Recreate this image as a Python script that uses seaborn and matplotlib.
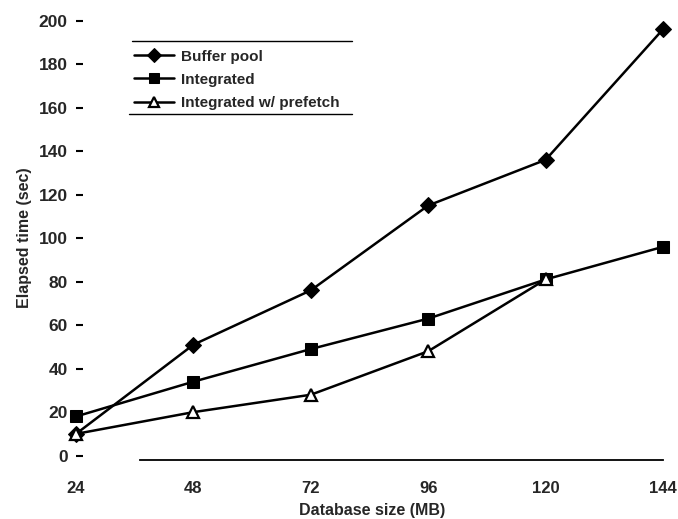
import numpy as np
import pandas as pd
import matplotlib
matplotlib.use('Agg')
import matplotlib.pyplot as plt
import seaborn as sns

# Values
db_size = [24, 48, 72, 96, 120, 144]
buffer_pool = [10, 51, 76, 115, 136, 196]
integrated = [18, 34, 49, 63, 81, 96]
prefetch_size = [24, 48, 72, 96, 120]
integrated_prefetch = [10, 20, 28, 48, 81]

y_ticks = [0, 20, 40, 60, 80, 100, 120, 140, 160, 180, 200]
x_ticks = [24, 48, 72, 96, 120, 144]

sns.set_theme(style='white')
plt.rcParams['font.family'] = ['Liberation Sans', 'DejaVu Sans']
plt.rcParams['font.weight'] = 'bold'

fig = plt.figure(figsize=(6.78, 5.19), dpi=100)
ax = fig.add_axes([0.1121, 0.1137, 0.873, 0.855])

lw = 1.8
sns.lineplot(x=db_size, y=buffer_pool, ax=ax, color='black', linewidth=lw,
             marker='D', markersize=8, mfc='black', mec='black',
             label='Buffer pool', clip_on=False)
sns.lineplot(x=db_size, y=integrated, ax=ax, color='black', linewidth=lw,
             marker='s', markersize=8.5, mfc='black', mec='black',
             label='Integrated', clip_on=False)
sns.lineplot(x=prefetch_size, y=integrated_prefetch, ax=ax, color='black', linewidth=lw,
             marker='^', markersize=8, mfc='white', mec='black', mew=1.6,
             label='Integrated w/ prefetch', clip_on=False)

ax.set_xlim(24, 145)
ax.set_ylim(-2, 202)
ax.set_xticks(x_ticks)
ax.set_yticks(y_ticks)
ax.tick_params(axis='y', left=True, direction='in', length=5, width=1.5, color='black',
               labelsize=12.5, pad=6)
ax.tick_params(axis='x', bottom=False, length=0, labelsize=12, pad=15)
for lab in ax.get_xticklabels() + ax.get_yticklabels():
    lab.set_fontweight('bold')

for side in ['top', 'right', 'left']:
    ax.spines[side].set_visible(False)
ax.spines['bottom'].set_bounds(37, 144)
ax.spines['bottom'].set_linewidth(1.3)
ax.spines['bottom'].set_color('black')

ax.set_xlabel('Database size (MB)', fontsize=11.5, fontweight='bold', labelpad=5)
ax.set_ylabel('Elapsed time (sec)', fontsize=11.5, fontweight='bold', labelpad=5)

leg = ax.legend(loc='upper left', bbox_to_anchor=(0.0985, 0.925), frameon=False,
                fontsize=11, handlelength=2.6, handletextpad=0.45, labelspacing=0.6,
                borderpad=0, borderaxespad=0, markerscale=0.85)
for t in leg.get_texts():
    t.set_fontweight('bold')

# horizontal rules above and below the legend
ax.plot([0.095, 0.467], [0.944, 0.944], transform=ax.transAxes, color='black', lw=1.0)
ax.plot([0.09, 0.467], [0.779, 0.779], transform=ax.transAxes, color='black', lw=1.0)

fig.savefig('out.png', dpi=100)
